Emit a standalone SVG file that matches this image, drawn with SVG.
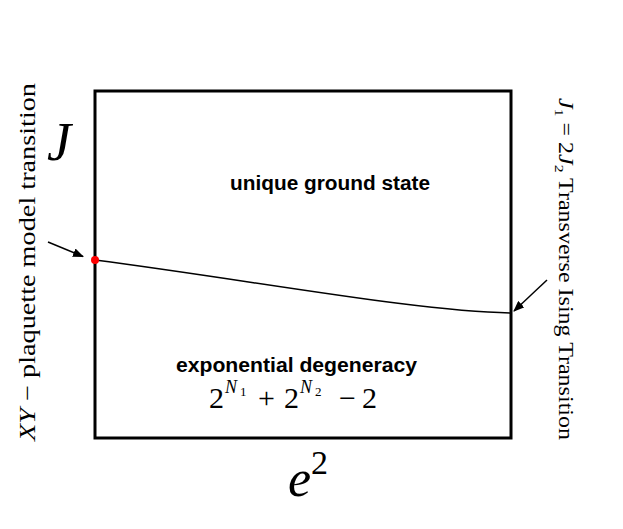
<svg xmlns="http://www.w3.org/2000/svg" width="623" height="529" viewBox="0 0 623 529">
<style>
.serif{font-family:"Liberation Serif","DejaVu Serif",serif;fill:#000}
.it{font-style:italic}
.bold{font-family:"Liberation Sans",Arial,sans-serif;font-weight:bold;font-size:20px;fill:#000}
.conn{stroke:#000;stroke-width:1.5;fill:none}
</style>
<defs>
<marker id="ah" markerWidth="11" markerHeight="9" refX="10" refY="4.5" orient="auto" markerUnits="userSpaceOnUse" viewBox="0 0 11 9">
<path d="M0,0 L11,4.5 L0,9 Z" fill="#000"/>
</marker>
</defs>
<rect width="623" height="529" fill="#fff"/>
<g id="box">
<rect x="95" y="91" width="416" height="347" fill="none" stroke="#000" stroke-width="3"/>
</g>
<g id="connectors">
<path class="conn" d="M95,260 C250,280 420,312 511,313"/>
<line class="conn" x1="48" y1="242" x2="83" y2="256.5" marker-end="url(#ah)"/>
<line class="conn" x1="547" y1="280" x2="514" y2="311" marker-end="url(#ah)"/>
</g>
<g id="dot"><circle cx="95" cy="260" r="4" fill="#f00"/></g>
<g id="axisJ"><text class="serif it" x="47" y="160" font-size="54">J</text></g>
<g id="axisE"><text class="serif it" x="288" y="496" font-size="52">e<tspan font-style="normal" font-size="34" dy="-22">2</tspan></text></g>
<g id="unique"><text class="bold" x="230" y="190" textLength="200" lengthAdjust="spacingAndGlyphs">unique ground state</text></g>
<g id="expo">
<text class="bold" x="176" y="372" textLength="241" lengthAdjust="spacingAndGlyphs">exponential degeneracy</text>
<g class="serif" font-size="30">
<text x="209" y="408">2</text>
<text x="225" y="393" font-size="18" class="it">N</text>
<text x="240" y="396" font-size="13">1</text>
<text x="258" y="408">+</text>
<text x="284" y="408">2</text>
<text x="300" y="393" font-size="18" class="it">N</text>
<text x="315" y="396" font-size="13">2</text>
<text x="339" y="408">−</text>
<text x="362" y="408">2</text>
</g>
</g>
<g id="leftlabel">
<text class="serif" font-size="23" transform="translate(35,441) rotate(-90)" textLength="358" lengthAdjust="spacingAndGlyphs"><tspan class="it">XY</tspan> − plaquette model transition</text>
</g>
<g id="rightlabel">
<text class="serif" font-size="20" transform="translate(559,98) rotate(90)" textLength="342" lengthAdjust="spacingAndGlyphs"><tspan class="it">J</tspan><tspan font-size="13" dy="4">1</tspan><tspan dy="-4"> = 2</tspan><tspan class="it">J</tspan><tspan font-size="13" dy="4">2</tspan><tspan dy="-4"> Transverse Ising Transition</tspan></text>
</g>
</svg>
